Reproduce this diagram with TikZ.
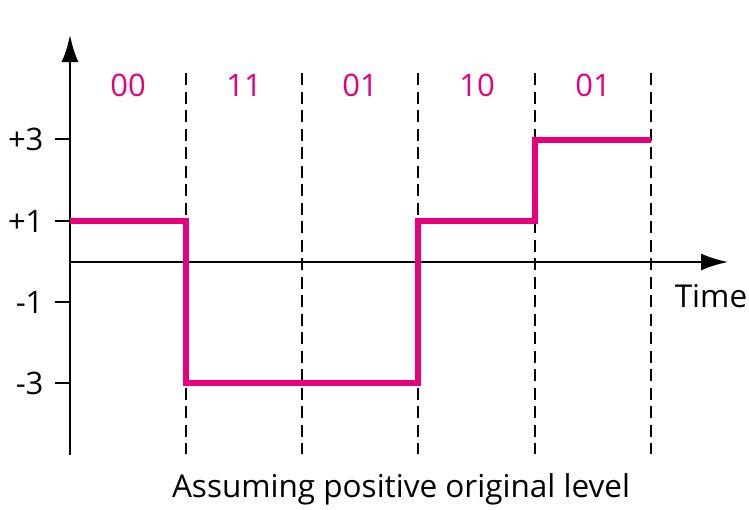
\documentclass[tikz,border=0pt]{standalone}
\usepackage{fontspec}
\setmainfont{Open Sans}
\usetikzlibrary{arrows.meta}
\definecolor{sig}{RGB}{230,0,126}
\tikzset{
  axis/.style={line width=2.4pt,-{Latex[length=27pt,width=17pt]}},
  tick/.style={line width=2.4pt},
  grid/.style={line width=2.6pt,dash pattern=on 12pt off 6.5pt},
  wave/.style={line width=6pt,sig,line join=miter},
  lvl/.style={font=\fontsize{31}{34}\selectfont,anchor=east},
  bits/.style={font=\fontsize{31}{34}\selectfont,text=sig},
  lbl/.style={font=\fontsize{31.5}{34}\selectfont}
}
\begin{document}
\begin{tikzpicture}[x=1pt,y=-1pt]
\useasboundingbox (0,0) rectangle (749,509);
% axes
\coordinate (o) at (70,455);
\coordinate (ytop) at (70,35);
\coordinate (x0) at (70,262);
\coordinate (xend) at (728,262);
\draw[axis] (o) -- (ytop);
\draw[axis] (x0) -- (xend);
% ticks and level labels
\foreach \y/\t/\n in {139/+3/a,221/+1/b,302/-1/c,383/-3/d}{
  \coordinate (tk\n) at (55,\y);
  \coordinate (tka\n) at (70,\y);
  \draw[tick] (tk\n) -- (tka\n);
  \node[lvl] (l\n) at (47,\y) {\t};
}
% dashed lines
\foreach \x/\n in {186/1,302/2,418/3,535/4,651/5}{
  \coordinate (dt\n) at (\x,73);
  \coordinate (db\n) at (\x,454);
  \draw[grid] (dt\n) -- (db\n);
}
% bit labels
\node[bits] (b1) at (128,85) {00};
\node[bits] (b2) at (244,85) {11};
\node[bits] (b3) at (360,85) {01};
\node[bits] (b4) at (477,85) {10};
\node[bits] (b5) at (593,85) {01};
% waveform
\coordinate (w0) at (70,221);
\coordinate (w1) at (186,221);
\coordinate (w2) at (186,383);
\coordinate (w3) at (418,383);
\coordinate (w4) at (418,221);
\coordinate (w5) at (535,221);
\coordinate (w6) at (535,140);
\coordinate (w7) at (651,140);
\draw[wave] (w0) -- (w1) -- (w2) -- (w3) -- (w4) -- (w5) -- (w6) -- (w7);
% labels
\node[lbl] (time) at (711,296) {Time};
\node[lbl] (cap) at (401,489) {Assuming positive original level};
\end{tikzpicture}
\end{document}
